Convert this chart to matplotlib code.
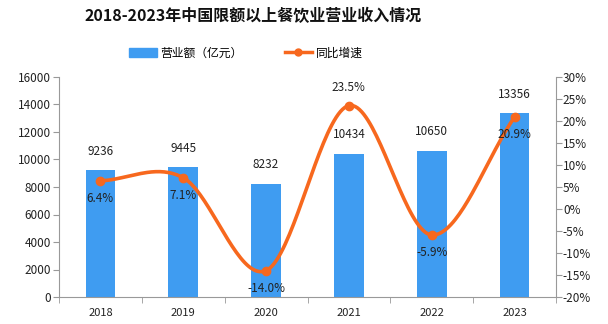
import numpy as np
import matplotlib
matplotlib.use("Agg")
import matplotlib.pyplot as plt
from matplotlib.lines import Line2D
from matplotlib.patches import Patch

plt.rcParams['font.family'] = ['Noto Sans CJK SC', 'DejaVu Sans']

years = ['2018', '2019', '2020', '2021', '2022', '2023']
revenue = [9236, 9445, 8232, 10434, 10650, 13356]
growth = [6.4, 7.1, -14.0, 23.5, -5.9, 20.9]
title = '2018-2023年中国限额以上餐饮业营业收入情况'
bar_label = '营业额（亿元）'
line_label = '同比增速'

BAR_C = '#3f9cf1'
LINE_C = '#f7681e'
TXT = '#222222'
SP = '#999999'


def catmull_rom(x, y, n=40):
    x = np.asarray(x, float); y = np.asarray(y, float)
    px = np.concatenate([[2 * x[0] - x[1]], x, [2 * x[-1] - x[-2]]])
    py = np.concatenate([[2 * y[0] - y[1]], y, [2 * y[-1] - y[-2]]])
    xs, ys = [], []
    t = np.linspace(0, 1, n)
    for i in range(1, len(px) - 2):
        p0, p1, p2, p3 = py[i - 1], py[i], py[i + 1], py[i + 2]
        q0, q1, q2, q3 = px[i - 1], px[i], px[i + 1], px[i + 2]
        f = lambda a0, a1, a2, a3: 0.5 * ((2 * a1) + (-a0 + a2) * t + (2 * a0 - 5 * a1 + 4 * a2 - a3) * t ** 2 + (-a0 + 3 * a1 - 3 * a2 + a3) * t ** 3)
        xs.append(f(q0, q1, q2, q3)); ys.append(f(p0, p1, p2, p3))
    return np.concatenate(xs), np.concatenate(ys)


fig = plt.figure(figsize=(6.08, 3.24), dpi=100)
ax = fig.add_axes([59 / 608, 1 - 297 / 324, (556 - 59) / 608, (297 - 77) / 324])
x = np.arange(len(years))
ax.bar(x, revenue, width=0.36, color=BAR_C, zorder=2)
ax.set_xlim(-0.5, len(years) - 0.5)
ax.set_ylim(0, 16000)
ax.set_yticks(np.arange(0, 16001, 2000))
ax.set_xticks(x)
ax.set_xticklabels(years)
ax.set_xticks(np.arange(-0.5, len(years)), minor=True)
ax.tick_params(axis='x', which='major', length=0, labelsize=8, colors=TXT, pad=8)
ax.tick_params(axis='x', which='minor', length=4, color=SP)
ax.tick_params(axis='y', length=4, color=SP, labelsize=8.5, labelcolor=TXT, pad=2)
for s in ['top', 'right']:
    ax.spines[s].set_visible(False)
for s in ['left', 'bottom']:
    ax.spines[s].set_color(SP)

for xi, v in zip(x, revenue):
    ax.annotate(str(v), (xi, v), xytext=(0, 9), textcoords='offset points',
                ha='center', va='bottom', fontsize=8.5, color=TXT)

ax2 = ax.twinx()
ax2.set_ylim(-20, 30)
ax2.set_yticks(np.arange(-20, 31, 5))
ax2.set_yticklabels([f'{v}%' for v in range(-20, 31, 5)])
ax2.tick_params(axis='y', length=4, color=SP, labelsize=8.5, labelcolor=TXT, pad=1)
for s in ['top', 'left', 'bottom']:
    ax2.spines[s].set_visible(False)
ax2.spines['right'].set_color(SP)
sx, sy = catmull_rom(x, growth)
ax2.plot(sx, sy, color=LINE_C, lw=2.6, zorder=3, solid_capstyle='round')
ax2.plot(x, growth, 'o', color=LINE_C, ms=6, zorder=4)
for xi, g in zip(x, growth):
    above = xi == 3
    ax2.annotate(f'{g:.1f}%', (xi, g), xytext=(0, 8 if above else -8), textcoords='offset points',
                 ha='center', va='bottom' if above else 'top', fontsize=8.5, color=TXT)

fig.text(253 / 608, 1 - 16 / 324, title, ha='center', va='center', fontsize=11.5,
         fontweight='bold', color='#111111')
handles = [Patch(color=BAR_C, label=bar_label),
           Line2D([0], [0], color=LINE_C, lw=2.5, marker='o', ms=5, label=line_label)]
fig.legend(handles=handles, loc='center', bbox_to_anchor=(246 / 608, 1 - 53 / 324), ncol=2,
           frameon=False, fontsize=8.5, handlelength=2.3, handleheight=0.8, columnspacing=3.6,
           handletextpad=0.3)

fig.savefig('out.png', dpi=100)
